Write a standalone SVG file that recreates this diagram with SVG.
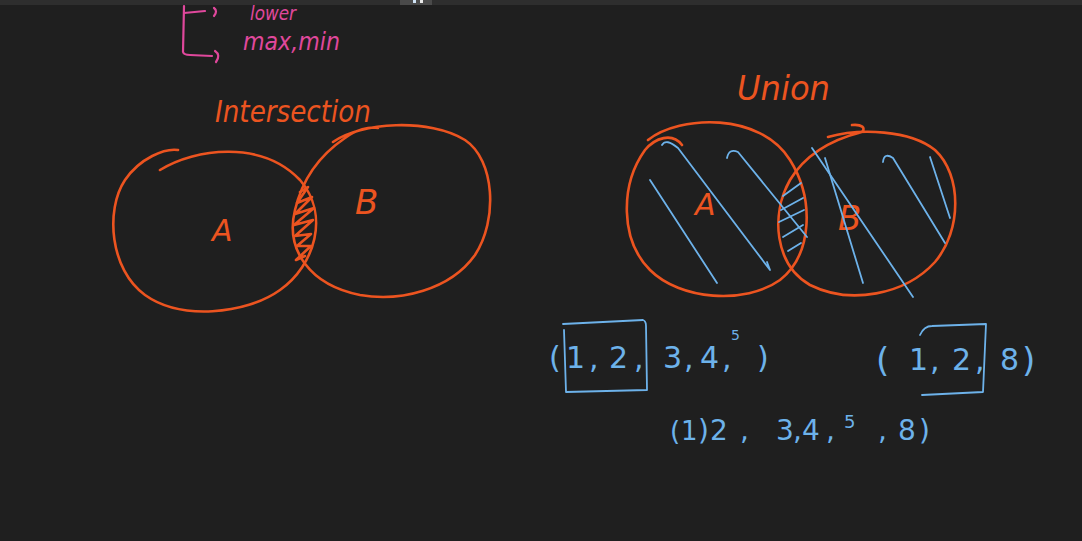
<svg xmlns="http://www.w3.org/2000/svg" width="1082" height="541" viewBox="0 0 1082 541">
<style>
.bg{fill:#1f1f1f}
.or{fill:none;stroke:#ec5420;stroke-width:2.6;stroke-linecap:round;stroke-linejoin:round}
.orf{fill:#ec5420;font-family:"DejaVu Sans",sans-serif;font-style:italic}
.bl{fill:none;stroke:#6db2ea;stroke-width:1.8;stroke-linecap:round;stroke-linejoin:round}
.blt{fill:#6db2ea;font-family:"DejaVu Sans",sans-serif}
.pk{fill:none;stroke:#e0489c;stroke-width:2.2;stroke-linecap:round;stroke-linejoin:round}
.pkt{fill:#e0489c;font-family:"DejaVu Sans",sans-serif;font-style:italic}
</style>
<rect class="bg" x="0" y="0" width="1082" height="541"/>

<g id="notes">
<text class="pkt" x="250" y="20" font-size="20" textLength="46" lengthAdjust="spacingAndGlyphs">lower</text>
<text class="pkt" x="243" y="50" font-size="24" textLength="97" lengthAdjust="spacingAndGlyphs">max,min</text>
</g>
<g id="connectors">
<path class="pk" d="M184 6 L183 52 Q184 55 190 55 L212 56"/>
<path class="pk" d="M184 13 L205 11"/>
<path class="pk" d="M214 8 Q218 11 214 16"/>
<path class="pk" d="M215 51 Q221 55 216 62"/>
</g>

<rect x="0" y="0" width="1082" height="5" fill="#2e2e2e"/>
<rect x="400" y="0" width="32" height="5" fill="#4a4a4a"/>
<rect x="413" y="0" width="3" height="3" fill="#cfe3f5"/>
<rect x="420" y="0" width="3" height="3" fill="#e8e8e8"/>

<g id="intersection-title">
<text class="orf" x="215" y="122" font-size="30" textLength="156" lengthAdjust="spacingAndGlyphs">Intersection</text>
</g>
<g id="intersection-A">
<path class="or" d="M160 170 C195 148 262 140 300 180 C330 215 315 265 280 290 C245 315 180 320 145 295 C110 270 105 210 125 180 C140 158 165 148 178 150"/>
<text class="orf" x="212" y="241" font-size="30" font-style="normal">A</text>
</g>
<g id="intersection-B">
<path class="or" d="M333 142 C360 122 430 118 465 140 C495 160 498 220 475 255 C450 290 400 302 360 295 C310 285 285 250 295 210 C302 180 320 155 345 138 C355 130 370 126 378 128"/>
<text class="orf" x="355" y="214" font-size="34" font-style="normal">B</text>
</g>
<g id="intersection-overlap">
<path class="or" stroke-width="2" d="M300 192 L308 187 L297 203 L312 197 L295 214 L314 208 L294 225 L313 220 L295 236 L311 234 L297 246 L311 246 L296 260 L305 256"/>
</g>

<g id="union-title">
<text class="orf" x="737" y="100" font-size="34" textLength="93" lengthAdjust="spacingAndGlyphs">Union</text>
</g>
<g id="union-A">
<path class="or" d="M648 140 C680 115 760 112 790 160 C815 200 812 255 780 280 C745 305 680 300 650 270 C620 240 620 185 645 150 C655 138 672 132 682 145"/>
<text class="orf" x="695" y="215" font-size="30" font-style="normal">A</text>
</g>
<g id="union-B">
<path class="or" d="M828 137 C860 128 910 130 935 150 C962 175 962 230 935 262 C905 295 850 305 810 285 C775 265 770 215 790 180 C805 155 830 140 862 132 C866 128 862 124 852 125"/>
<text class="orf" x="838" y="230" font-size="34" font-style="normal">B</text>
</g>
<g id="union-shading">
<path class="bl" d="M662 145 Q666 138 678 148 L770 270 L767 262"/>
<path class="bl" d="M650 180 L717 283"/>
<path class="bl" d="M727 158 Q729 148 738 152 L807 237"/>
<path class="bl" d="M783 196 L801 183 M781 210 L803 198 M779 222 L804 210 M783 237 L803 225 M788 251 L801 243"/>
<path class="bl" d="M812 148 L913 297"/>
<path class="bl" d="M825 158 L863 283"/>
<path class="bl" d="M883 162 Q884 152 893 158 L945 243"/>
<path class="bl" d="M930 157 L950 218"/>
</g>

<g id="set-a">
<path class="bl" d="M563 324 L643 320 Q646 321 646 326 L647 390 L566 392 L564 330"/>
<text class="blt" font-size="30" y="368"><tspan x="549">(</tspan><tspan x="566">1</tspan><tspan x="589">,</tspan><tspan x="609">2</tspan><tspan x="634">,</tspan><tspan x="663">3</tspan><tspan x="684">,</tspan><tspan x="700">4</tspan><tspan x="722">,</tspan><tspan x="731" font-size="14" dy="-28">5</tspan><tspan x="757" dy="28">)</tspan></text>
</g>
<g id="set-b">
<path class="bl" d="M920 335 Q924 326 932 326 L986 324 L983 392 L922 395"/>
<text class="blt" y="372"><tspan x="876" font-size="34">(</tspan><tspan x="909" font-size="30" dy="-2">1</tspan><tspan x="930" font-size="30">,</tspan><tspan x="952" font-size="30">2</tspan><tspan x="975" font-size="30">,</tspan><tspan x="1000" font-size="30">8</tspan><tspan x="1022" font-size="34" dy="2">)</tspan></text>
</g>
<g id="set-union">
<text class="blt" font-size="28" y="440"><tspan x="670" font-size="26">(</tspan><tspan x="681" font-size="26">1</tspan><tspan x="698">)</tspan><tspan x="710">2</tspan><tspan x="740">,</tspan><tspan x="776">3</tspan><tspan x="793">,</tspan><tspan x="802">4</tspan><tspan x="826">,</tspan><tspan x="844" font-size="18" dy="-12">5</tspan><tspan x="878" dy="12">,</tspan><tspan x="898">8</tspan><tspan x="919">)</tspan></text>
</g>
</svg>
